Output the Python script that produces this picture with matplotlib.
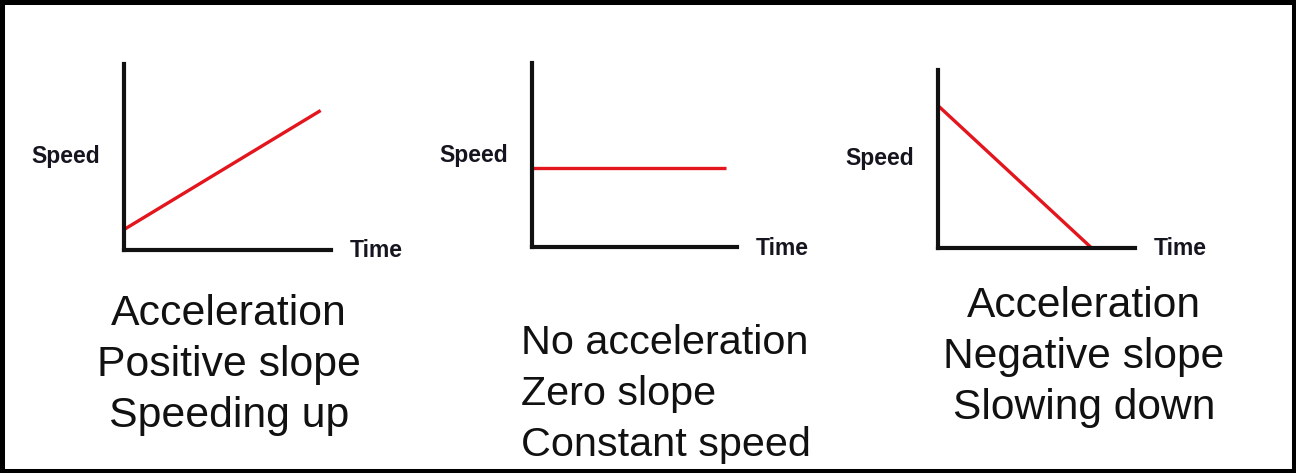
import matplotlib
matplotlib.use("Agg")
import matplotlib.pyplot as plt
from matplotlib.patches import Rectangle

# ---- data ----
times_1 = [0.0, 0.95]
speeds_1 = [0.11, 0.75]
times_2 = [0.0, 0.946]
speeds_2 = [0.43, 0.43]
times_3 = [0.0, 0.78]
speeds_3 = [0.80, 0.0]
y_label = "Speed"
x_label = "Time"
captions_1 = ["Acceleration", "Positive slope", "Speeding up"]
captions_2 = ["No acceleration", "Zero slope", "Constant speed"]
captions_3 = ["Acceleration", "Negative slope", "Slowing down"]

W, H = 1296, 473
fig = plt.figure(figsize=(W / 100, H / 100), dpi=100)
fig.patch.set_facecolor("white")

FONT = "Liberation Sans"
AXCOL = "#111111"
RED = "#e3151d"
LBLCOL = "#15151f"


def px_axes(x0, y_top, x1, y_bot):
    return fig.add_axes([x0 / W, (H - y_bot) / H, (x1 - x0) / W, (y_bot - y_top) / H])


def fx(x):
    return x / W


def fy(y):
    return (H - y) / H


panels = [
    dict(box=(124, 64, 331, 250), t=times_1, s=speeds_1, caps=captions_1, cap_fs=30.8,
         cap_x=229, cap_ha="center", cap_base=325, sp_base=163, tm_base=257),
    dict(box=(532, 63, 737, 247), t=times_2, s=speeds_2, caps=captions_2, cap_fs=29.8,
         cap_x=521, cap_ha="left", cap_base=354, sp_base=162, tm_base=255),
    dict(box=(938, 70, 1135, 248), t=times_3, s=speeds_3, caps=captions_3, cap_fs=30.6,
         cap_x=1084, cap_ha="center", cap_base=317, sp_base=165, tm_base=255),
]

for p in panels:
    x0, yt, x1, yb = p["box"]
    ax = px_axes(x0, yt, x1, yb)
    ax.set_xlim(0, 1)
    ax.set_ylim(0, 1)
    ax.plot(p["t"], p["s"], color=RED, lw=2.4, solid_capstyle="butt", clip_on=False, zorder=3)
    for side in ("top", "right"):
        ax.spines[side].set_visible(False)
    for side in ("left", "bottom"):
        ax.spines[side].set_linewidth(3.0)
        ax.spines[side].set_color(AXCOL)
        ax.spines[side].set_capstyle("projecting")
        ax.spines[side].set_zorder(4)
    ax.set_xticks([])
    ax.set_yticks([])
    ax.patch.set_alpha(0)

    fig.text(fx(x0 - 24), fy(p["sp_base"]), y_label, ha="right", va="baseline",
             fontsize=16.5, fontweight="bold", family=FONT, color=LBLCOL)
    fig.text(fx(x1 + 19), fy(p["tm_base"]), x_label, ha="left", va="baseline",
             fontsize=16.5, fontweight="bold", family=FONT, color=LBLCOL)
    for i, line in enumerate(p["caps"]):
        fig.text(fx(p["cap_x"]), fy(p["cap_base"] + i * 51), line, ha=p["cap_ha"],
                 va="baseline", fontsize=p["cap_fs"], family=FONT, color="#111111")

fig.patches.append(Rectangle((0, 0), 1, 1, transform=fig.transFigure, fill=False,
                             edgecolor="black", lw=6.5, zorder=10))

fig.savefig("out.png", dpi=100, facecolor="white")
